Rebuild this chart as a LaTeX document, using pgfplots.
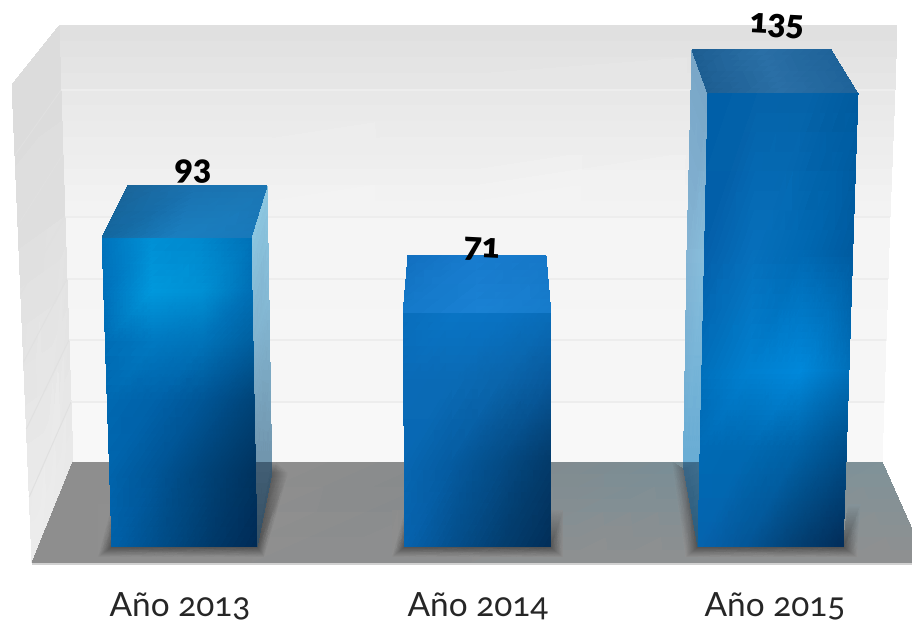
\documentclass[border=0pt]{standalone}
\usepackage{fontspec}
\setmainfont{Lato}[Numbers=OldStyle]
\newfontfamily\blk{Lato Black}[Numbers=OldStyle]
\usepackage{pgfplots}
\pgfplotsset{compat=1.18}
\pgfplotsset{
  base/.style={scale only axis,width=456pt,height=312pt,xmin=0,xmax=912},
  grad/.style={surf,shader=interp,mesh/color input=explicit,mesh/ordering=x varies,mesh/cols=#1},
}
\pgfkeys{/pgfplots/table/tb/.style={header=false,x index=0,y index=1,meta index=2,row sep=\\}}
\begin{document}
\begin{tikzpicture}
% ---- scene: walls, floor, shadows, side and top faces, in picture coordinates
\begin{axis}[base,hide axis,y dir=reverse,ymin=0,ymax=624]
% back wall
\addplot[grad=2] table[tb]{
59 26 rgb255=224,224,224\\ 897 26 rgb255=224,224,224\\
61 90 rgb255=232,232,232\\ 895 90 rgb255=232,232,232\\
65 217 rgb255=245,245,245\\ 890 217 rgb255=245,245,245\\
71 402 rgb255=248,248,248\\ 884 402 rgb255=248,248,248\\
73 462 rgb255=248,248,248\\ 882 462 rgb255=248,248,248\\
};
% left wall
\addplot[grad=2] table[tb]{
12 85 rgb255=220,220,220\\ 59 26 rgb255=220,220,220\\
19 250 rgb255=224,224,224\\ 65 217 rgb255=225,225,225\\
32 563 rgb255=238,238,238\\ 73 462 rgb255=234,234,234\\
};
% grid lines
\addplot[color=black!7,line width=0.6pt] coordinates {(61,90)(895,90)};
\addplot[color=black!7,line width=0.6pt] coordinates {(63,154)(893,154)};
\addplot[color=black!7,line width=0.6pt] coordinates {(65,217)(890,217)};
\addplot[color=black!7,line width=0.6pt] coordinates {(67,279)(888,279)};
\addplot[color=black!7,line width=0.6pt] coordinates {(69,340)(886,340)};
\addplot[color=black!7,line width=0.6pt] coordinates {(71,402)(884,402)};
\addplot[color=black!12,line width=0.5pt] coordinates {(61,90)(15,155)};
\addplot[color=black!12,line width=0.5pt] coordinates {(63,154)(18,225)};
\addplot[color=black!12,line width=0.5pt] coordinates {(65,217)(20.6,294)};
\addplot[color=black!12,line width=0.5pt] coordinates {(67,279)(23.5,362)};
\addplot[color=black!12,line width=0.5pt] coordinates {(69,340)(26.3,429)};
\addplot[color=black!12,line width=0.5pt] coordinates {(71,402)(29.2,497)};
% floor
\addplot[grad=5] table[tb]{
73 462 rgb255=142,142,142\\ 280 462 rgb255=142,142,142\\ 480 462 rgb255=134,138,140\\ 680 462 rgb255=122,142,150\\ 882 462 rgb255=128,146,152\\
32 563 rgb255=144,144,144\\ 252 563 rgb255=144,144,144\\ 472 563 rgb255=144,144,144\\ 692 563 rgb255=144,144,144\\ 927 563 rgb255=144,144,144\\
};
\addplot[color=black!18,line width=0.7pt] coordinates {(32,564)(912,564)};
% soft shadows: outer row has the floor's colour, inner row is dark
\addplot[grad=5] table[tb]{
98 505 rgb255=143,143,143\\ 98 557 rgb255=143,143,143\\ 264 557 rgb255=143,143,143\\ 288 473 rgb255=142,142,142\\ 276 462 rgb255=142,142,142\\
112 505 rgb255=143,143,143\\ 112 547 rgb255=82,82,82\\ 257 547 rgb255=82,82,82\\ 272 473 rgb255=92,92,92\\ 272 462 rgb255=140,140,140\\
};
\addplot[grad=4] table[tb]{
392 510 rgb255=140,141,141\\ 392 557 rgb255=144,144,144\\ 563 557 rgb255=144,144,144\\ 563 510 rgb255=136,140,142\\
405 510 rgb255=140,141,141\\ 405 547 rgb255=82,82,82\\ 550 547 rgb255=82,82,82\\ 550 510 rgb255=134,138,140\\
};
\addplot[grad=4] table[tb]{
672 462 rgb255=122,142,150\\ 686 557 rgb255=144,144,144\\ 857 557 rgb255=144,144,144\\ 860 505 rgb255=132,146,152\\
684 470 rgb255=96,104,110\\ 698 547 rgb255=82,82,82\\ 843 547 rgb255=82,82,82\\ 848 505 rgb255=132,146,152\\
};
% bar 1 side
\addplot[grad=2] table[tb]{
251 238 rgb255=140,198,224\\ 267 186 rgb255=140,198,224\\
253 350 rgb255=128,176,204\\ 269 300 rgb255=132,184,212\\
255 462 rgb255=112,148,172\\ 271.6 462 rgb255=112,148,172\\
};
\addplot[grad=2] table[tb]{
255 462 rgb255=66,94,116\\ 271.6 462 rgb255=66,94,116\\
257 547 rgb255=52,78,98\\ 272 473 rgb255=58,88,110\\
};
% bar 1 top
\addplot[grad=3] table[tb]{
128 186 rgb255=26,101,154\\ 197 186 rgb255=26,114,176\\ 267 186 rgb255=27,118,180\\
102 238 rgb255=19,103,159\\ 176 238 rgb255=26,127,192\\ 251 238 rgb255=24,121,187\\
};
% bar 2 top
\addplot[grad=3] table[tb]{
408 256 rgb255=18,112,192\\ 477 256 rgb255=24,124,206\\ 546 256 rgb255=22,120,200\\
403 314 rgb255=20,122,202\\ 477 314 rgb255=26,130,212\\ 551 314 rgb255=22,124,204\\
};
% bar 3 side
\addplot[grad=2] table[tb]{
692 50 rgb255=122,167,200\\ 708 94 rgb255=122,167,200\\
687 250 rgb255=132,180,212\\ 704.6 250 rgb255=136,190,220\\
683.5 462 rgb255=104,172,212\\ 699.5 462 rgb255=104,172,212\\
};
\addplot[grad=2] table[tb]{
683.5 462 rgb255=62,110,142\\ 699.5 462 rgb255=62,110,142\\
684 470 rgb255=56,100,132\\ 698 547 rgb255=40,92,124\\
};
% bar 3 top
\addplot[grad=3] table[tb]{
692 50 rgb255=29,94,146\\ 761 50 rgb255=42,111,166\\ 831 50 rgb255=31,99,153\\
708 94 rgb255=29,94,146\\ 783 94 rgb255=42,111,166\\ 858 94 rgb255=31,99,153\\
};
\end{axis}
% ---- the values: front faces of the bars, value labels and category labels
\begin{axis}[base,ymin=-19.2,ymax=162.33,
  axis line style={draw=none},ytick=\empty,
  xtick={180,478,775},xticklabels={Año 2013,Año 2014,Año 2015},
  xtick style={draw=none},
  xticklabel style={anchor=center,yshift=9pt,font=\fontsize{16.7}{18}\selectfont,text=black!85}]
% bar 1: 93
\addplot[grad=4] table[tb]{
102 93 rgb255=0,114,187\\ 151.7 93 rgb255=0,144,213\\ 201.3 93 rgb255=0,137,206\\ 251 93 rgb255=0,114,184\\
103.7 78 rgb255=0,112,186\\ 153.1 78 rgb255=0,152,220\\ 202.6 78 rgb255=0,144,212\\ 252 78 rgb255=0,111,181\\
105.3 63 rgb255=0,109,181\\ 154.5 63 rgb255=0,120,192\\ 203.8 63 rgb255=0,114,184\\ 253 63 rgb255=0,94,158\\
107.2 46 rgb255=0,104,176\\ 156.2 46 rgb255=0,97,168\\ 205.1 46 rgb255=0,84,148\\ 254.1 46 rgb255=0,67,119\\
109.5 26 rgb255=0,100,172\\ 158.2 26 rgb255=0,85,150\\ 206.8 26 rgb255=0,67,120\\ 255.5 26 rgb255=0,51,95\\
112 3.2 rgb255=0,96,168\\ 160.3 3.2 rgb255=0,77,136\\ 208.7 3.2 rgb255=0,58,107\\ 257 3.2 rgb255=0,42,85\\
};
% bar 2: 71
\addplot[grad=4] table[tb]{
403 71 rgb255=9,110,188\\ 452 71 rgb255=9,116,196\\ 502 71 rgb255=9,114,194\\ 551 71 rgb255=9,108,184\\
403.6 51.8 rgb255=10,106,182\\ 452.4 51.8 rgb255=10,106,180\\ 502 51.8 rgb255=10,100,170\\ 550.7 51.8 rgb255=8,88,154\\
404.3 28.5 rgb255=7,103,178\\ 452.6 28.5 rgb255=5,91,160\\ 501.8 28.5 rgb255=4,75,133\\ 550.3 28.5 rgb255=3,58,105\\
405 3.2 rgb255=6,98,173\\ 453 3.2 rgb255=4,79,140\\ 501.9 3.2 rgb255=3,61,110\\ 550 3.2 rgb255=2,46,88\\
};
% bar 3: 135
\addplot[grad=4] table[tb]{
708 135 rgb255=0,95,168\\ 757.5 135 rgb255=5,99,170\\ 807.5 135 rgb255=5,99,169\\ 858 135 rgb255=0,91,159\\
704.6 89.6 rgb255=4,96,171\\ 753.5 89.6 rgb255=6,112,188\\ 803.9 89.6 rgb255=0,105,179\\ 852.8 89.6 rgb255=0,91,160\\
701.9 54.7 rgb255=0,112,188\\ 750.4 54.7 rgb255=0,128,208\\ 800.5 54.7 rgb255=0,136,218\\ 849 54.7 rgb255=0,112,186\\
700.1 31.4 rgb255=0,105,179\\ 748.4 31.4 rgb255=0,104,176\\ 798.2 31.4 rgb255=0,96,164\\ 846.4 31.4 rgb255=0,77,136\\
698 3.2 rgb255=6,98,173\\ 745.9 3.2 rgb255=4,85,150\\ 795.2 3.2 rgb255=3,63,114\\ 843 3.2 rgb255=2,44,88\\
};
\node[font=\blk\fontsize{17}{18}\selectfont,text=black] at (axis cs:193,112.3) {93};
\node[font=\blk\fontsize{17}{18}\selectfont,text=black,rotate=-3] at (axis cs:482,89.6) {71};
\node[font=\blk\fontsize{17}{18}\selectfont,text=black,rotate=-3] at (axis cs:777,154.8) {135};
\end{axis}
\end{tikzpicture}
\end{document}
